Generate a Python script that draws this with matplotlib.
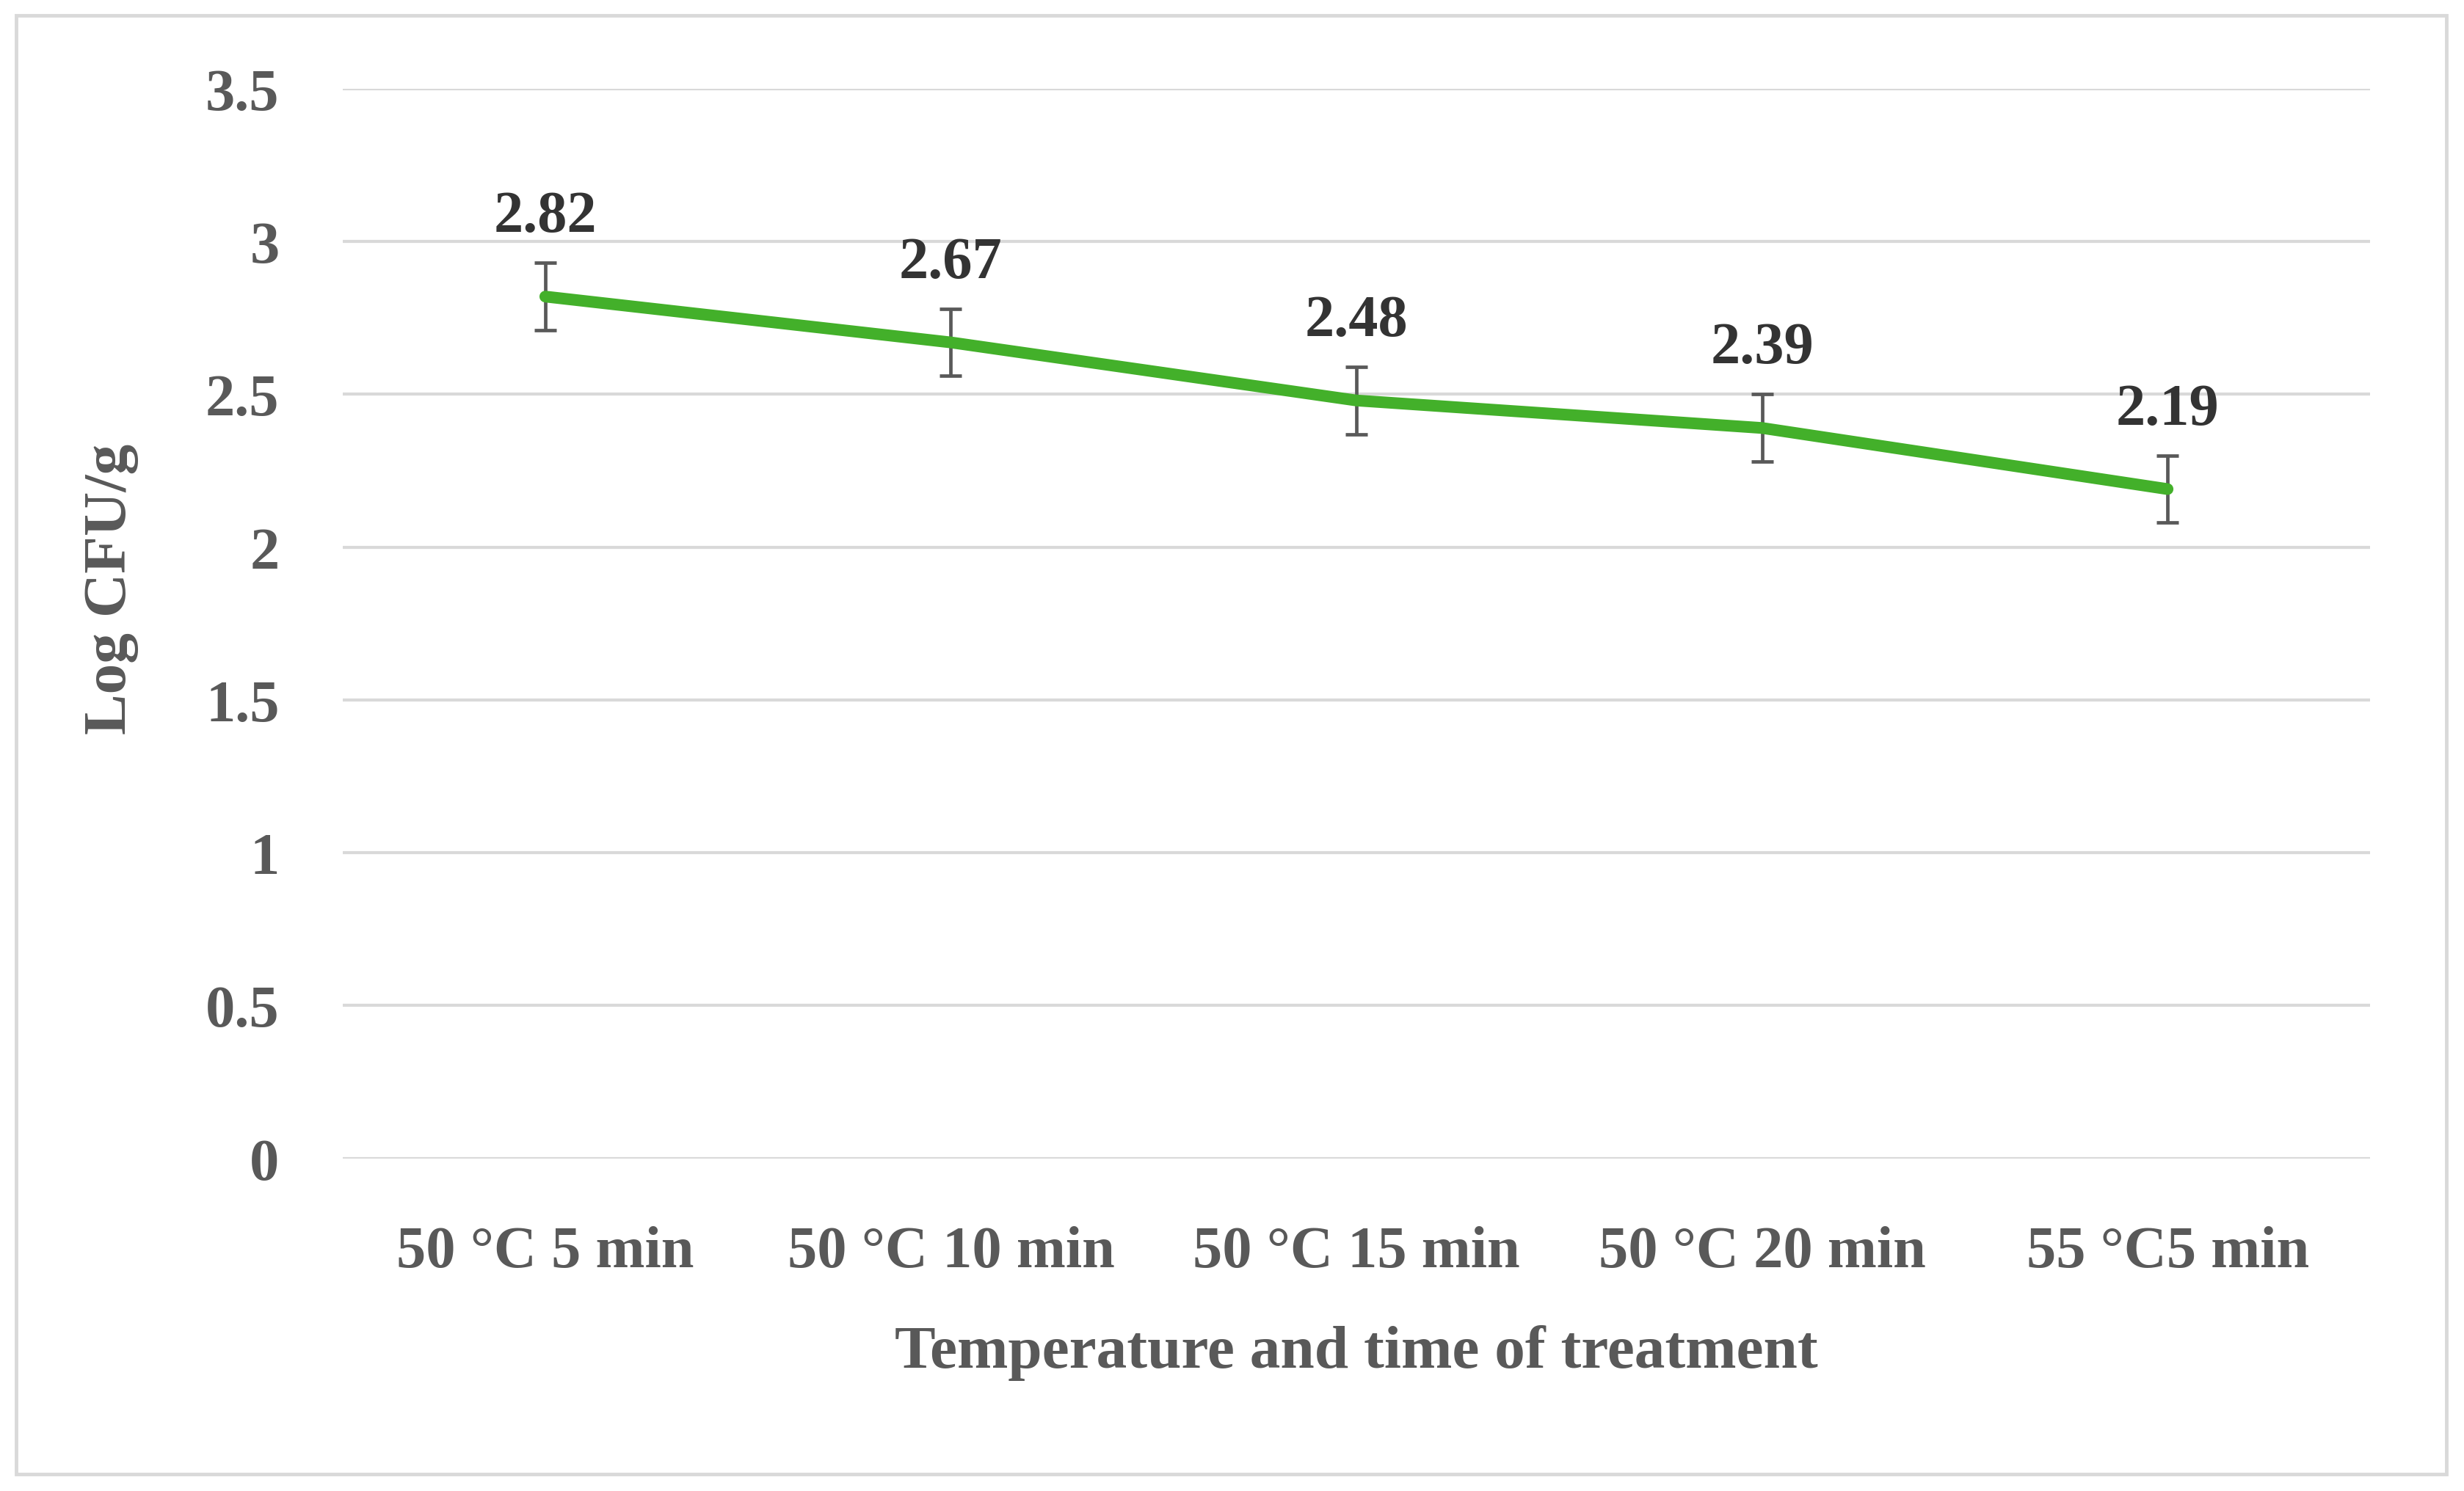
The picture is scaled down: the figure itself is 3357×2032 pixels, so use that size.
import matplotlib
matplotlib.use("Agg")
import matplotlib.pyplot as plt
from matplotlib.patches import Rectangle

categories = ["50 °C 5 min", "50 °C 10 min", "50 °C 15 min", "50 °C 20 min", "55 °C5 min"]
log_cfu = [2.82, 2.67, 2.48, 2.39, 2.19]
errors = [0.11, 0.11, 0.11, 0.11, 0.11]
yticks = [0, 0.5, 1, 1.5, 2, 2.5, 3, 3.5]
ytick_labels = ["0", "0.5", "1", "1.5", "2", "2.5", "3", "3.5"]

plt.rcParams['font.family'] = ['Liberation Serif', 'DejaVu Serif']
plt.rcParams['font.weight'] = 'bold'

fig = plt.figure(figsize=(33.57, 20.33), dpi=100)
ax = fig.add_axes([0.139, 0.223, 0.823, 0.717])

# outer frame around the whole chart
fig.patches.append(Rectangle((0.0066, 0.0113), 0.9862, 0.978, transform=fig.transFigure,
                             fill=False, edgecolor="#d9d9d9", linewidth=3.5))

x = list(range(len(categories)))
ax.errorbar(x, log_cfu, yerr=errors, fmt='none', ecolor="#595959", elinewidth=3.4,
            capsize=11, capthick=3.4, zorder=3)
ax.plot(x, log_cfu, color="#43b02a", linewidth=11.5, solid_capstyle='round',
        solid_joinstyle='round', zorder=4)

for xi, v in zip(x, log_cfu):
    ax.annotate(f"{v:.2f}", (xi, v), xytext=(0, 78), textcoords='offset points',
                ha='center', va='center', fontsize=58, fontweight='bold', color="#333333")

ax.set_xlim(-0.5, len(categories) - 0.5)
ax.set_ylim(0, 3.5)
ax.set_yticks(yticks)
ax.set_yticklabels(ytick_labels)
ax.set_xticks(x)
ax.set_xticklabels(categories)
ax.yaxis.grid(True, color="#d9d9d9", linewidth=3)
ax.set_axisbelow(True)
for s in ax.spines.values():
    s.set_visible(False)
ax.tick_params(axis='both', length=0, labelsize=58, labelcolor="#595959")
ax.tick_params(axis='y', pad=62)
ax.tick_params(axis='x', pad=66)

fig.text(0.5 * (0.139 + 0.962), 0.093, "Temperature and time of treatment", ha='center',
         va='center', fontsize=60, fontweight='bold', color="#595959")
fig.text(0.045, 0.605, "Log CFU/g", rotation=90, ha='center', va='center',
         fontsize=60, fontweight='bold', color="#595959")

fig.savefig("out.png", dpi=100, facecolor="white")
